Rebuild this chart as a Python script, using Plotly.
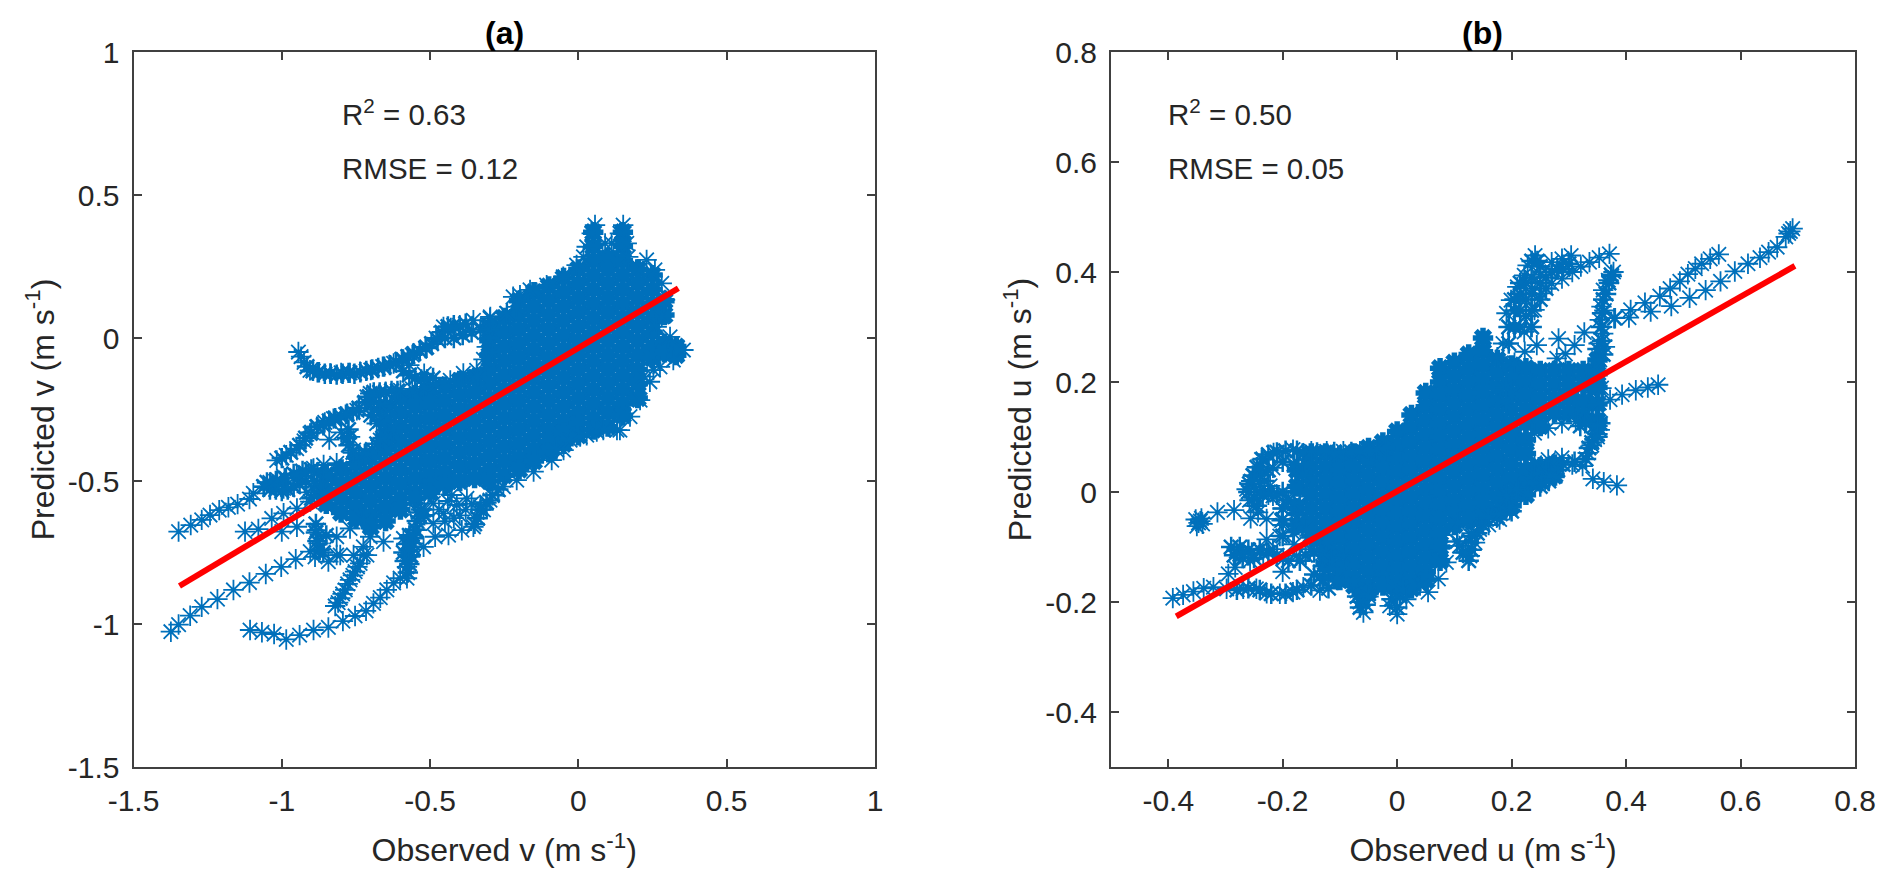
import plotly.graph_objects as go

BLUE = "#0070BB"
RED = "#FF0000"
AXIS = "#404040"
TEXT = "#262626"
FONT = "Liberation Sans, Arial, sans-serif"

# ---------- panel (a): observed v / predicted v ----------
a_fit_x = [-1.345, 0.337]
a_fit_y = [-0.867, 0.174]

a_tracks_x = [
    # long lower line
    -1.374, -1.348, -1.309, -1.270, -1.217, -1.163, -1.109, -1.054, -1.002, -0.953, -0.904, -0.888, -0.843, -0.803, -0.758, -0.725,
    # upper-left line
    -1.348, -1.307, -1.270, -1.242, -1.211, -1.180, -1.149, -1.109, -1.096, -1.062, -1.028, -0.994, -0.961, -0.938, -0.893, -0.859, -0.815, -1.040, -1.015, -0.985, -0.950, -0.920,
    # middle-left start
    -1.124, -1.079, -1.034, -1.000, -0.949, -0.994, -0.949, -0.904, -0.893, -0.882, -0.876, -0.871, -0.815, -0.770, -0.725, -0.702, -0.657, -0.725, -0.815, -0.916, -0.860,
    # narrow finger
    -0.820, -0.803, -0.786, -0.770, -0.753, -0.736, -0.713, -0.810, -0.795, -0.778, -0.760, -0.745,
    # bottom curve
    -1.107, -1.067, -1.026, -0.985, -0.940, -0.893, -0.843, -0.794, -0.753, -0.716, -0.691, -0.668, -0.646, -0.623, -0.601, -0.578, -0.578, -0.567, -0.556, -0.545, -0.522, -0.590, -0.533, -0.585, -0.572, -0.560,
    # open star patch, lower edge
    -0.483, -0.438, -0.393, -0.354, -0.320, -0.298, -0.455, -0.410, -0.376, -0.489, -0.427, -0.489, -0.340, -0.330, -0.253, -0.208, -0.151, -0.090, -0.050, 0.006, 0.062, 0.130,
    -0.470, -0.450, -0.420, -0.400, -0.380, -0.360, -0.440, -0.520,
    # hook and upper band
    -0.944, -0.935, -0.925, -0.905, -0.880, -0.837, -0.800, -0.770, -0.736, -0.700, -0.660, -0.623, -0.590, -0.560, -0.534, -0.511, -0.480, -0.455, -0.430, -0.400, -0.354, -0.297, -0.240, -0.220, -0.200,
    # second band and first loop
    -0.702, -0.650, -0.600, -0.560, -0.522, -0.480, -0.432, -0.388, -0.343, -0.320, -0.309, -0.300, -0.340, -0.290, -0.570, -0.520,
    # small loop
    -1.017, -0.985, -0.950, -0.925, -0.905, -0.882, -0.855, -0.826, -0.785, -0.747, -0.713, -0.770, -0.758, -0.713, -0.668, -0.623, -0.680, -0.635, -0.670, -0.800, -0.840,
    # towers and right lobes
    0.056, 0.045, 0.028, 0.017, 0.151, 0.140, 0.112, 0.163, 0.168, 0.090, 0.230, 0.208, 0.258, 0.281, 0.292, 0.281, 0.264, 0.309, 0.354, 0.320, 0.275, 0.241, 0.219, 0.253, 0.208, 0.174, 0.140, 0.084, 0.028, -0.028, -0.073,
    -0.197, -0.163, -0.107, -0.051, -0.006, -0.298, -0.242, -0.208,
]
a_tracks_y = [
    -1.027, -1.002, -0.971, -0.940, -0.913, -0.881, -0.855, -0.825, -0.800, -0.773, -0.747, -0.765, -0.782, -0.759, -0.759, -0.759,
    -0.677, -0.654, -0.636, -0.619, -0.602, -0.592, -0.581, -0.563, -0.543, -0.520, -0.514, -0.526, -0.520, -0.485, -0.456, -0.444, -0.438, -0.505, -0.495, -0.490, -0.480, -0.470,
    -0.677, -0.668, -0.631, -0.677, -0.660, -0.613, -0.596, -0.572, -0.520, -0.672, -0.718, -0.741, -0.695, -0.666, -0.636, -0.695, -0.712, -0.730, -0.759, -0.540, -0.540,
    -0.937, -0.910, -0.881, -0.846, -0.817, -0.788, -0.759, -0.925, -0.895, -0.860, -0.830, -0.800,
    -1.021, -1.029, -1.035, -1.054, -1.039, -1.021, -1.012, -0.990, -0.972, -0.954, -0.928, -0.908, -0.881, -0.856, -0.840, -0.840, -0.800, -0.765, -0.718, -0.672, -0.730, -0.701, -0.625, -0.780, -0.740, -0.690,
    -0.695, -0.689, -0.672, -0.660, -0.601, -0.567, -0.613, -0.584, -0.561, -0.578, -0.549, -0.648, -0.630, -0.590, -0.520, -0.497, -0.467, -0.427, -0.392, -0.345, -0.327, -0.322,
    -0.600, -0.640, -0.630, -0.620, -0.600, -0.580, -0.570, -0.600,
    -0.049, -0.065, -0.085, -0.113, -0.120, -0.124, -0.122, -0.122, -0.118, -0.112, -0.100, -0.089, -0.075, -0.060, -0.045, -0.031, 0.000, 0.039, 0.035, 0.045, 0.062, 0.074, 0.086, 0.144, 0.130,
    -0.194, -0.188, -0.183, -0.178, -0.171, -0.160, -0.148, -0.124, -0.113, -0.075, -0.031, 0.000, -0.135, -0.050, -0.095, -0.125,
    -0.428, -0.410, -0.387, -0.360, -0.334, -0.311, -0.295, -0.282, -0.268, -0.253, -0.206, -0.346, -0.392, -0.404, -0.357, -0.322, -0.299, -0.241, -0.230, -0.330, -0.355,
    0.395, 0.366, 0.319, 0.284, 0.395, 0.366, 0.331, 0.331, 0.284, 0.331, 0.273, 0.238, 0.238, 0.191, 0.133, 0.074, 0.039, 0.004, -0.042, -0.077, -0.101, -0.153, -0.135, -0.112, -0.217, -0.275, -0.322, -0.322, -0.340, -0.357, -0.392,
    0.150, 0.168, 0.185, 0.214, 0.255, 0.069, 0.086, 0.109,
]

# overlapping passes that make the bands look thick
a_band_x = [
    -0.915, -0.895, -0.875, -0.855, -0.835, -0.815, -0.795, -0.775, -0.755, -0.735, -0.715, -0.695, -0.675, -0.655, -0.635, -0.615, -0.595, -0.575, -0.555, -0.535, -0.515, -0.495, -0.475, -0.460, -0.440, -0.420, -0.400, -0.380,
    -0.450, -0.420, -0.390, -0.360, -0.330, -0.300,
    -0.690, -0.670, -0.650, -0.630, -0.610, -0.590, -0.570, -0.550, -0.530, -0.510, -0.490,
    -1.000, -0.970, -0.940, -0.920, -0.900, -0.880, -0.860, -0.840, -0.820, -0.800, -0.780, -0.760, -0.740, -0.720, -0.705,
    -0.775, -0.780, -0.775, -0.760, -0.740, -0.720, -0.695, -0.680, -0.660, -0.640,
    -0.690, -0.690, -0.670, -0.670, -0.700, -0.670,
    -1.060, -1.040, -1.020, -1.000, -0.980, -0.960, -0.940, -1.050, -1.020, -0.990, -0.960, -0.930, -0.900, -0.880, -0.920, -0.890, -0.870, -0.880, -0.900,
    -0.885, -0.885, -0.880, -0.875, -0.860, -0.850,
    -0.575, -0.570, -0.565, -0.560, -0.555, -0.550, -0.545, -0.540, -0.530, -0.520, -0.585, -0.590, -0.580, -0.570,
    -0.330, -0.340, -0.350, -0.310, -0.290, -0.270,
]
a_band_y = [
    -0.100, -0.115, -0.120, -0.125, -0.125, -0.128, -0.125, -0.122, -0.125, -0.120, -0.115, -0.110, -0.105, -0.100, -0.095, -0.085, -0.075, -0.065, -0.055, -0.045, -0.035, -0.020, -0.005, 0.020, 0.040, 0.045, 0.040, 0.050,
    0.000, 0.000, 0.010, 0.020, 0.030, 0.030,
    -0.190, -0.190, -0.190, -0.185, -0.185, -0.115, -0.130, -0.140, -0.145, -0.145, -0.140,
    -0.420, -0.400, -0.375, -0.350, -0.330, -0.310, -0.305, -0.290, -0.280, -0.275, -0.265, -0.260, -0.245, -0.225, -0.205,
    -0.320, -0.350, -0.375, -0.400, -0.410, -0.405, -0.390, -0.370, -0.350, -0.340,
    -0.220, -0.250, -0.230, -0.260, -0.270, -0.290,
    -0.520, -0.530, -0.530, -0.535, -0.530, -0.520, -0.510, -0.505, -0.500, -0.490, -0.475, -0.465, -0.460, -0.470, -0.500, -0.500, -0.520, -0.550, -0.560,
    -0.650, -0.680, -0.710, -0.740, -0.750, -0.690,
    -0.820, -0.790, -0.760, -0.730, -0.700, -0.670, -0.640, -0.610, -0.600, -0.620, -0.780, -0.750, -0.720, -0.690,
    -0.600, -0.630, -0.650, -0.575, -0.550, -0.530,
]

a_core_x = [-0.85, -0.80, -0.75, -0.70, -0.65, -0.60, -0.55, -0.50, -0.45, -0.40, -0.35, -0.30, -0.25, -0.20, -0.15, -0.10, -0.05, 0.00, 0.05, 0.10, 0.15, 0.20, 0.25, 0.29, 0.33]
a_core_y = [
    [-0.48, -0.53, -0.58],
    [-0.46, -0.51, -0.56, -0.61],
    [-0.44, -0.49, -0.54, -0.59, -0.63],
    [-0.42, -0.47, -0.52, -0.57, -0.62, -0.66],
    [-0.24, -0.29, -0.34, -0.39, -0.44, -0.49, -0.54, -0.59, -0.64],
    [-0.21, -0.26, -0.31, -0.36, -0.41, -0.46, -0.51, -0.56, -0.60],
    [-0.20, -0.24, -0.29, -0.34, -0.39, -0.44, -0.49, -0.54, -0.56],
    [-0.19, -0.23, -0.28, -0.33, -0.38, -0.43, -0.48, -0.52, -0.54],
    [-0.17, -0.22, -0.27, -0.32, -0.37, -0.42, -0.47, -0.51],
    [-0.15, -0.20, -0.25, -0.30, -0.35, -0.40, -0.45, -0.50],
    [-0.14, -0.19, -0.24, -0.29, -0.34, -0.39, -0.44, -0.49],
    [0.04, -0.01, -0.06, -0.11, -0.16, -0.21, -0.26, -0.31, -0.36, -0.41, -0.46, -0.50],
    [0.07, 0.02, -0.03, -0.08, -0.13, -0.18, -0.23, -0.28, -0.33, -0.38, -0.43, -0.48],
    [0.13, 0.08, 0.03, -0.02, -0.07, -0.12, -0.17, -0.22, -0.27, -0.32, -0.37, -0.42, -0.46],
    [0.16, 0.11, 0.06, 0.01, -0.04, -0.09, -0.14, -0.19, -0.24, -0.29, -0.34, -0.39, -0.43],
    [0.18, 0.13, 0.08, 0.03, -0.02, -0.07, -0.12, -0.17, -0.22, -0.27, -0.32, -0.36, -0.40],
    [0.21, 0.16, 0.11, 0.06, 0.01, -0.04, -0.09, -0.14, -0.19, -0.24, -0.29, -0.33, -0.37],
    [0.24, 0.19, 0.14, 0.09, 0.04, -0.01, -0.06, -0.11, -0.16, -0.21, -0.26, -0.30, -0.34],
    [0.37, 0.32, 0.27, 0.22, 0.17, 0.12, 0.07, 0.02, -0.03, -0.08, -0.13, -0.18, -0.23, -0.28, -0.32],
    [0.28, 0.24, 0.19, 0.14, 0.09, 0.04, -0.01, -0.06, -0.11, -0.16, -0.21, -0.26, -0.31],
    [0.37, 0.32, 0.27, 0.22, 0.17, 0.12, 0.07, 0.02, -0.03, -0.08, -0.13, -0.18, -0.23, -0.27],
    [0.24, 0.19, 0.14, 0.09, 0.04, -0.01, -0.06, -0.11, -0.16, -0.21],
    [0.22, 0.17, 0.12, 0.07, 0.02, -0.03, -0.07],
    [0.13, 0.08, -0.02, -0.05],
    [-0.03, -0.06],
]

# ---------- panel (b): observed u / predicted u ----------
b_fit_x = [-0.386, 0.695]
b_fit_y = [-0.226, 0.411]

b_tracks_x = [
    # long tail to the top right
    0.691, 0.687, 0.684, 0.679, 0.664, 0.649, 0.634, 0.613, 0.590, 0.565, 0.539, 0.511, 0.479, 0.443, 0.405, 0.379,
    # second tail
    0.562, 0.547, 0.532, 0.521, 0.508, 0.494, 0.477, 0.459, 0.433, 0.408, 0.381,
    # towers
    0.241, 0.228, 0.222, 0.210, 0.199, 0.191, 0.270, 0.288, 0.304, 0.321, 0.336, 0.353, 0.371, 0.306, 0.288, 0.270, 0.252, 0.240, 0.234, 0.250, 0.235, 0.215, 0.205,
    0.378, 0.375, 0.369, 0.360, 0.357, 0.354, 0.360, 0.363, 0.354, 0.345, 0.352, 0.358, 0.362,
    # open stars inside the fork
    0.282, 0.327, 0.310, 0.294, 0.279, 0.244, 0.223, 0.222, 0.175, 0.185, 0.195, 0.205,
    # right lobes
    0.456, 0.438, 0.417, 0.393, 0.372, 0.353, 0.357, 0.336,
    0.354, 0.345, 0.333, 0.324, 0.306, 0.288, 0.264, 0.240, 0.276, 0.252, 0.342, 0.312, 0.288, 0.264, 0.240, 0.350, 0.350, 0.340, 0.328,
    0.342, 0.361, 0.384,
    0.197, 0.179, 0.216, 0.160, 0.195,
    # left end
    -0.392, -0.374, -0.356, -0.338, -0.321, -0.298, -0.269, -0.246, -0.228, -0.205, -0.182, -0.164, -0.135, -0.295, -0.283,
    -0.344, -0.347, -0.350, -0.342, -0.340, -0.352, -0.314, -0.285, -0.256, -0.228, -0.202, -0.176,
    -0.281, -0.275, -0.269, -0.254, -0.234, -0.217, -0.199, -0.176, -0.152, -0.257, -0.228, -0.205, -0.182, -0.158, -0.123, -0.200, -0.180,
    -0.263, -0.249, -0.237, -0.216, -0.182, -0.150, -0.123, -0.094, -0.065, -0.036,
    -0.251, -0.243, -0.222, -0.217, -0.193, -0.217, -0.200, -0.170, -0.258, -0.255, -0.240, -0.225, -0.200, -0.180,
    -0.135, -0.118, -0.094,
    # bottom lobes
    -0.059, -0.065, -0.070, -0.050, 0.000, -0.013, 0.016, 0.054, 0.072, 0.086, 0.127, 0.109, 0.136, 0.144, 0.106, 0.174, 0.197, 0.191, 0.267, 0.232, 0.208, 0.120, 0.125, 0.130,
    0.160, 0.180, 0.040,
]
b_tracks_y = [
    0.479, 0.474, 0.470, 0.464, 0.445, 0.436, 0.426, 0.415, 0.401, 0.383, 0.367, 0.353, 0.338, 0.328, 0.317, 0.316,
    0.432, 0.424, 0.415, 0.406, 0.396, 0.383, 0.370, 0.356, 0.344, 0.331, 0.316,
    0.430, 0.412, 0.394, 0.373, 0.349, 0.325, 0.418, 0.424, 0.430, 0.410, 0.418, 0.426, 0.433, 0.400, 0.388, 0.379, 0.361, 0.331, 0.300, 0.395, 0.370, 0.350, 0.300,
    0.400, 0.392, 0.385, 0.367, 0.337, 0.313, 0.288, 0.264, 0.240, 0.220, 0.270, 0.300, 0.330,
    0.279, 0.290, 0.267, 0.251, 0.243, 0.267, 0.255, 0.291, 0.245, 0.270, 0.300, 0.235,
    0.195, 0.190, 0.185, 0.177, 0.168, 0.162, 0.189, 0.186,
    0.113, 0.095, 0.071, 0.047, 0.050, 0.062, 0.059, 0.053, 0.029, 0.017, 0.131, 0.128, 0.125, 0.116, 0.107, 0.120, 0.100, 0.085, 0.125,
    0.024, 0.018, 0.012,
    -0.032, -0.050, 0.000, -0.060, -0.015,
    -0.193, -0.187, -0.181, -0.175, -0.173, -0.176, -0.176, -0.176, -0.184, -0.185, -0.182, -0.173, -0.179, -0.149, -0.137,
    -0.053, -0.056, -0.062, -0.048, -0.058, -0.050, -0.037, -0.033, -0.048, -0.049, -0.052, -0.049,
    -0.107, -0.113, -0.113, -0.110, -0.113, -0.104, -0.122, -0.116, -0.104, -0.125, -0.086, -0.080, -0.074, -0.068, -0.092, -0.145, -0.095,
    0.005, 0.029, 0.059, 0.071, 0.077, 0.074, 0.074, 0.074, 0.074, 0.077,
    -0.025, -0.037, 0.011, -0.007, -0.013, 0.044, -0.030, -0.030, -0.015, 0.020, 0.045, -0.005, -0.060, -0.020,
    -0.152, -0.140, -0.116,
    -0.219, -0.200, -0.180, -0.190, -0.222, -0.207, -0.195, -0.182, -0.158, -0.128, -0.116, -0.098, -0.092, -0.068, -0.056, -0.047, -0.028, -0.007, 0.029, 0.017, 0.005, -0.110, -0.090, -0.075,
    -0.045, -0.040, -0.170,
]

# overlapping passes that make the bands look thick
b_band_x = [
    # left tower and its top band
    0.215, 0.215, 0.215, 0.215, 0.235, 0.235, 0.235, 0.235, 0.235, 0.250, 0.250, 0.250, 0.225, 0.225, 0.225, 0.205, 0.205, 0.205, 0.195, 0.195, 0.245,
    0.260, 0.270, 0.280, 0.290, 0.300, 0.260,
    # right tower
    0.374, 0.370, 0.365, 0.360, 0.358, 0.356, 0.358, 0.360, 0.350,
    # left loop
    -0.260, -0.258, -0.252, -0.245, -0.235, -0.225, -0.210, -0.195, -0.175, -0.165, -0.140, -0.110, -0.080, -0.050, -0.020,
    -0.240, -0.232, -0.225, -0.200, -0.180, -0.160, -0.240, -0.250,
    -0.250, -0.245, -0.235, -0.225, -0.210, -0.190, -0.170, -0.200, -0.165, -0.200, -0.200, -0.200,
    # lower left clump
    -0.290, -0.285, -0.275, -0.270, -0.260, -0.250, -0.240, -0.225, -0.210, -0.190, -0.170, -0.160, -0.145, -0.140, -0.135, -0.125,
    -0.280, -0.260, -0.240, -0.220, -0.195, -0.175, -0.150, -0.145, -0.130, -0.120, -0.130, -0.115, -0.120, -0.105,
    # bottom and right lobes
    -0.065, -0.055, -0.060, -0.070, -0.050, 0.000, -0.010, 0.005, 0.010,
    0.105, 0.115, 0.125, 0.130, 0.130, 0.140, 0.150, 0.175, 0.190, 0.200,
    0.240, 0.250, 0.260, 0.270, 0.280, 0.235, 0.250, 0.265, 0.290, 0.310,
    0.350, 0.340, 0.335, 0.330, 0.345, 0.355, 0.330, 0.320,
    0.190, 0.200, 0.190,
]
b_band_y = [
    0.300, 0.330, 0.360, 0.380, 0.300, 0.330, 0.360, 0.390, 0.420, 0.350, 0.380, 0.410, 0.320, 0.350, 0.380, 0.300, 0.330, 0.350, 0.270, 0.300, 0.420,
    0.390, 0.400, 0.405, 0.405, 0.415, 0.370,
    0.395, 0.380, 0.360, 0.350, 0.325, 0.300, 0.275, 0.250, 0.260,
    0.000, 0.015, 0.030, 0.045, 0.060, 0.068, 0.072, 0.075, 0.075, 0.070, 0.072, 0.073, 0.073, 0.075, 0.080,
    0.000, 0.020, 0.040, 0.055, 0.050, 0.050, 0.030, 0.010,
    -0.010, -0.025, -0.005, 0.000, -0.005, -0.015, -0.020, 0.000, 0.030, -0.050, -0.030, -0.080,
    -0.100, -0.115, -0.100, -0.120, -0.105, -0.120, -0.105, -0.110, -0.115, -0.125, -0.125, -0.115, -0.110, -0.090, -0.105, -0.115,
    -0.178, -0.175, -0.178, -0.185, -0.185, -0.178, -0.170, -0.150, -0.160, -0.155, -0.135, -0.125, -0.175, -0.160,
    -0.210, -0.205, -0.195, -0.190, -0.185, -0.210, -0.195, -0.190, -0.180,
    -0.090, -0.110, -0.125, -0.105, -0.080, -0.075, -0.060, -0.045, -0.030, -0.035,
    0.030, 0.035, 0.040, 0.045, 0.040, 0.015, 0.010, 0.020, 0.050, 0.055,
    0.105, 0.090, 0.080, 0.060, 0.120, 0.125, 0.130, 0.120,
    0.190, 0.178, 0.165,
]

b_core_x = [-0.175, -0.15, -0.125, -0.10, -0.075, -0.05, -0.025, 0.00, 0.025, 0.05, 0.075, 0.10, 0.125, 0.15, 0.175, 0.20, 0.225, 0.25, 0.275, 0.30, 0.325, 0.35]
b_core_y = [
    [0.04, 0.01, -0.03, -0.06],
    [0.07, 0.045, 0.02, -0.005, -0.03, -0.055, -0.08],
    [0.07, 0.045, 0.02, -0.005, -0.03, -0.055, -0.08, -0.105, -0.13],
    [0.065, 0.04, 0.015, -0.01, -0.035, -0.06, -0.085, -0.11, -0.135, -0.16],
    [0.07, 0.045, 0.02, -0.005, -0.03, -0.055, -0.08, -0.105, -0.13, -0.155, -0.17],
    [0.08, 0.055, 0.03, 0.005, -0.02, -0.045, -0.07, -0.095, -0.12, -0.145, -0.17, -0.18],
    [0.09, 0.065, 0.04, 0.015, -0.01, -0.035, -0.06, -0.085, -0.11, -0.135, -0.16, -0.17],
    [0.11, 0.085, 0.06, 0.035, 0.01, -0.015, -0.04, -0.065, -0.09, -0.115, -0.14, -0.165, -0.175],
    [0.14, 0.115, 0.09, 0.065, 0.04, 0.015, -0.01, -0.035, -0.06, -0.085, -0.11, -0.135, -0.16, -0.175],
    [0.18, 0.155, 0.13, 0.105, 0.08, 0.055, 0.03, 0.005, -0.02, -0.045, -0.07, -0.095, -0.12, -0.145, -0.16],
    [0.225, 0.20, 0.175, 0.15, 0.125, 0.10, 0.075, 0.05, 0.025, 0.0, -0.025, -0.05, -0.075, -0.10, -0.125],
    [0.235, 0.21, 0.185, 0.16, 0.135, 0.11, 0.085, 0.06, 0.035, 0.01, -0.015, -0.04, -0.06],
    [0.25, 0.225, 0.20, 0.175, 0.15, 0.125, 0.10, 0.075, 0.05, 0.025, 0.0, -0.025, -0.05],
    [0.28, 0.255, 0.23, 0.205, 0.18, 0.155, 0.13, 0.105, 0.08, 0.055, 0.03, 0.005, -0.02, -0.045],
    [0.24, 0.215, 0.19, 0.165, 0.14, 0.115, 0.09, 0.065, 0.04, 0.015, -0.01, -0.035],
    [0.23, 0.205, 0.178, 0.15, 0.125, 0.10, 0.075, 0.05, 0.025, 0.0, -0.025],
    [0.225, 0.20, 0.175, 0.15, 0.125, 0.095, 0.07, 0.04, 0.015, -0.005],
    [0.22, 0.195, 0.17, 0.145, 0.12, 0.045, 0.02],
    [0.22, 0.195, 0.17, 0.145, 0.05, 0.03],
    [0.22, 0.195, 0.17, 0.145],
    [0.22, 0.195, 0.165, 0.14],
    [0.24, 0.215, 0.19, 0.16, 0.13],
]

a_x_ticks = [-1.5, -1, -0.5, 0, 0.5, 1]
a_x_labels = ["-1.5", "-1", "-0.5", "0", "0.5", "1"]
a_y_ticks = [-1.5, -1, -0.5, 0, 0.5, 1]
a_y_labels = ["-1.5", "-1", "-0.5", "0", "0.5", "1"]
b_x_ticks = [-0.4, -0.2, 0, 0.2, 0.4, 0.6, 0.8]
b_x_labels = ["-0.4", "-0.2", "0", "0.2", "0.4", "0.6", "0.8"]
b_y_ticks = [-0.4, -0.2, 0, 0.2, 0.4, 0.6, 0.8]
b_y_labels = ["-0.4", "-0.2", "0", "0.2", "0.4", "0.6", "0.8"]


def flatten(col_x, col_y):
    xs, ys = [], []
    for x, column in zip(col_x, col_y):
        for y in column:
            xs.append(x)
            ys.append(y)
    return xs, ys


def star(width, size):
    return dict(symbol="asterisk-open", size=size, color=BLUE, line=dict(width=width, color=BLUE))


W, H = 1892, 889
fig = go.Figure()
for ax, core, band, tracks, fit in [
    ("", (a_core_x, a_core_y), (a_band_x, a_band_y), (a_tracks_x, a_tracks_y), (a_fit_x, a_fit_y)),
    ("2", (b_core_x, b_core_y), (b_band_x, b_band_y), (b_tracks_x, b_tracks_y), (b_fit_x, b_fit_y)),
]:
    cx, cy = flatten(*core)
    refs = dict(xaxis="x" + ax, yaxis="y" + ax, showlegend=False)
    fig.add_trace(go.Scatter(x=cx, y=cy, mode="markers", marker=star(5.5, 17), **refs))
    fig.add_trace(go.Scatter(x=band[0], y=band[1], mode="markers", marker=star(2.5, 17), **refs))
    fig.add_trace(go.Scatter(x=tracks[0], y=tracks[1], mode="markers", marker=star(1.8, 17), **refs))
    fig.add_trace(go.Scatter(x=fit[0], y=fit[1], mode="lines", line=dict(color=RED, width=6), **refs))


def axis(rng, ticks, labels, domain, title, anchor, standoff):
    return dict(
        range=rng, domain=domain, anchor=anchor, tickmode="array", tickvals=ticks, ticktext=labels,
        ticks="inside", ticklen=8, tickwidth=1.5, tickcolor=AXIS, showline=True, linecolor=AXIS, linewidth=2,
        mirror="ticks", showgrid=False, zeroline=False, ticklabelstandoff=6,
        tickfont=dict(family=FONT, size=30, color=TEXT),
        title=dict(text=title, font=dict(family=FONT, size=32, color=TEXT), standoff=standoff), automargin=False,
    )


def note(text, px, py, size, anchor="left", color=TEXT):
    return dict(text=text, x=px / W, y=1 - py / H, xref="paper", yref="paper", xanchor=anchor, yanchor="middle",
                showarrow=False, font=dict(family=FONT, size=size, color=color))


dom_y = [1 - 767 / H, 1 - 52 / H]
fig.update_layout(
    width=W, height=H, margin=dict(l=0, r=0, t=0, b=0), paper_bgcolor="white", plot_bgcolor="white",
    xaxis=axis([-1.5, 1], a_x_ticks, a_x_labels, [133.5 / W, 875 / W], "Observed v (m s<sup>-1</sup>)", "y", 23),
    yaxis=axis([-1.5, 1], a_y_ticks, a_y_labels, dom_y, "Predicted v (m s<sup>-1</sup>)", "x", 4),
    xaxis2=axis([-0.5, 0.8], b_x_ticks, b_x_labels, [1111 / W, 1855 / W], "Observed u (m s<sup>-1</sup>)", "y2", 23),
    yaxis2=axis([-0.5, 0.8], b_y_ticks, b_y_labels, dom_y, "Predicted u (m s<sup>-1</sup>)", "x2", 4),
    annotations=[
        note("<b>(a)</b>", 504, 33, 32, "center", "#000000"),
        note("<b>(b)</b>", 1482, 33, 32, "center", "#000000"),
        note("R<sup>2</sup> = 0.63", 340, 113, 29.5),
        note("RMSE = 0.12", 340, 169, 29.5),
        note("R<sup>2</sup> = 0.50", 1166, 113, 29.5),
        note("RMSE = 0.05", 1166, 169, 29.5),
    ],
)

fig.write_html("out.html", config={"displayModeBar": False},
               post_script="document.body.style.margin='0';document.documentElement.style.overflow='hidden';")
